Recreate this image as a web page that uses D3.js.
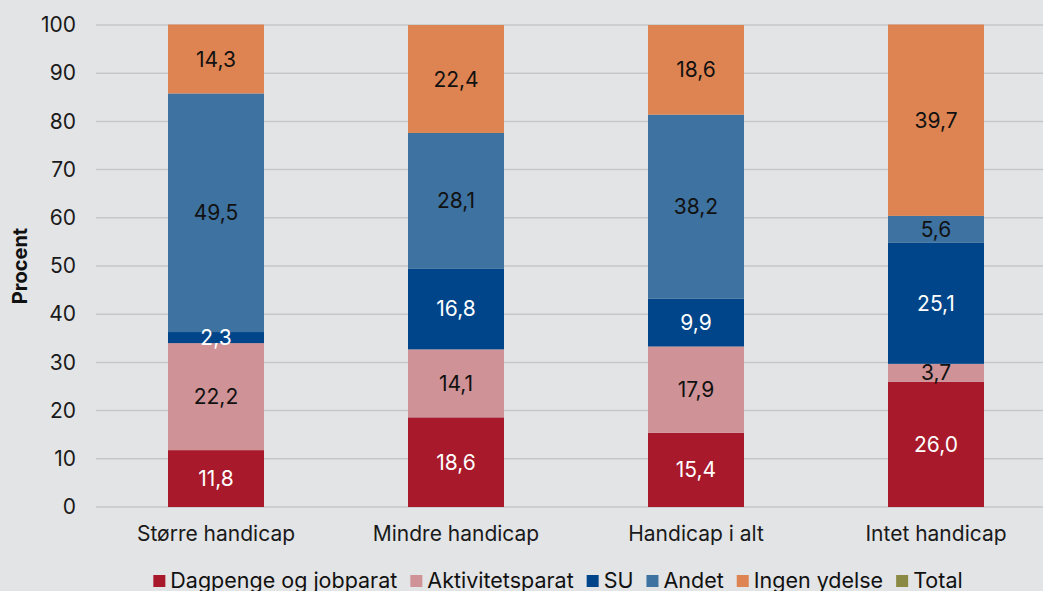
<!DOCTYPE html>
<html><head><meta charset="utf-8">
<script src="https://cdn.jsdelivr.net/npm/d3@7/dist/d3.min.js"></script>
<style>
html,body{margin:0;padding:0;background:#E3E4E6;}
svg{display:block;font-family:Inter, "Noto Sans", sans-serif;}
</style></head>
<body><svg id="c" width="1043" height="591"></svg>
<script>
const categories = ["Større handicap","Mindre handicap","Handicap i alt","Intet handicap"];
const seriesNames = ["Dagpenge og jobparat","Aktivitetsparat","SU","Andet","Ingen ydelse","Total"];
const dagpenge = [11.8,18.6,15.4,26.0];
const aktivitetsparat = [22.2,14.1,17.9,3.7];
const su = [2.3,16.8,9.9,25.1];
const andet = [49.5,28.1,38.2,5.6];
const ingenYdelse = [14.3,22.4,18.6,39.7];
const total = [0,0,0,0];
const yTicks = [0,10,20,30,40,50,60,70,80,90,100];

const seriesValues = [dagpenge,aktivitetsparat,su,andet,ingenYdelse,total];
const colors = ["#A8192B","#CF9296","#00458A","#3E72A0","#DD8452","#8A8A44"];
const labelColors = ["#fff","#111","#fff","#111","#111","#111"];
const FS = 21;

const svg = d3.select("#c");
const x = d3.scaleBand().domain(categories).range([96,1056]).padding(0);
const y = d3.scaleLinear().domain([0,100]).range([507,25]);
const barW = x.bandwidth()*0.4;

// gridlines
svg.append("g").selectAll("line").data(yTicks).join("line")
  .attr("x1",96).attr("x2",1043)
  .attr("y1",d=>y(d)).attr("y2",d=>y(d))
  .attr("stroke","#C6C7C9").attr("stroke-width",1.5);

// y axis
const yAxis = d3.axisLeft(y).tickValues(yTicks).tickSize(0).tickPadding(0).tickFormat(d3.format("d"));
const gy = svg.append("g").attr("transform","translate(76,0)").call(yAxis);
gy.select(".domain").remove();
gy.selectAll("text").attr("font-size",FS).attr("fill","#1a1a1a").attr("font-family","Inter, sans-serif");

// x axis
const xAxis = d3.axisBottom(x).tickSize(0).tickPadding(0);
const gx = svg.append("g").attr("transform","translate(0,526)").call(xAxis);
gx.select(".domain").remove();
gx.selectAll("text").attr("font-size",FS).attr("fill","#1a1a1a").attr("font-family","Inter, sans-serif");

// stacked data
const rows = categories.map((c,i)=>{const o={cat:c}; seriesNames.forEach((s,j)=>o[s]=seriesValues[j][i]); return o;});
const stack = d3.stack().keys(seriesNames)(rows);

const layers = svg.append("g").selectAll("g").data(stack).join("g")
  .attr("fill",(d,i)=>colors[i]);
layers.selectAll("rect").data(d=>d).join("rect")
  .attr("x",d=>x(d.data.cat)+x.bandwidth()/2-barW/2)
  .attr("width",barW)
  .attr("y",d=>y(d[1]))
  .attr("height",d=>y(d[0])-y(d[1]));

// labels
stack.forEach((layer,i)=>{
  if(seriesNames[i]==="Total") return;
  svg.append("g").selectAll("text").data(layer).join("text")
    .attr("x",d=>x(d.data.cat)+x.bandwidth()/2)
    .attr("y",d=>(y(d[0])+y(d[1]))/2)
    .attr("dy","0.36em")
    .attr("text-anchor","middle")
    .attr("font-size",FS)
    .attr("fill",labelColors[i])
    .text(d=>d3.format(".1f")(d[1]-d[0]).replace(".",","));
});

// y title
svg.append("text").attr("transform","translate(27,266) rotate(-90)")
  .attr("text-anchor","middle").attr("font-size",20).attr("font-weight","bold")
  .attr("fill","#111").text("Procent");

// legend
const lg = svg.append("g");
let lx = 0;
seriesNames.forEach((s,i)=>{
  const g = lg.append("g");
  g.append("rect").attr("x",0).attr("y",-13).attr("width",12).attr("height",12).attr("fill",colors[i]);
  const t = g.append("text").attr("x",17).attr("y",0).attr("font-size",21.5).attr("fill","#111").text(s);
  const w = t.node().getComputedTextLength();
  g.attr("transform",`translate(${lx},0)`);
  lx += 17 + w + 13;
});
const lw = lx - 13;
lg.attr("transform",`translate(${558 - lw/2},588)`);
</script></body></html>
